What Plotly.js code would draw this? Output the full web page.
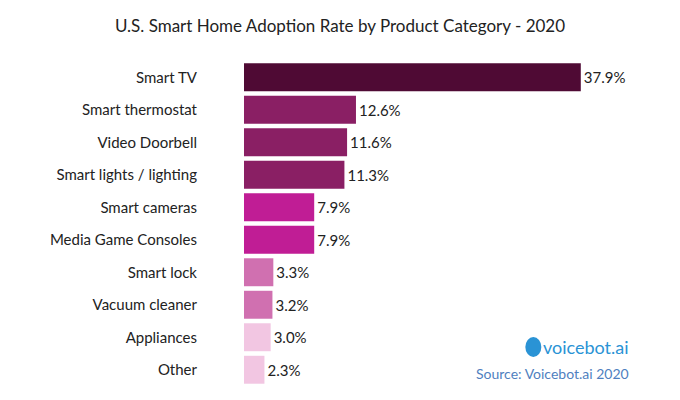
<!DOCTYPE html><html><head><script src="https://cdn.plot.ly/plotly-3.0.1.min.js"></script></head><body style="margin:0">
<div id="c" style="width:680px;height:400px"></div>
<script>
const categories=["Smart TV","Smart thermostat","Video Doorbell","Smart lights / lighting","Smart cameras","Media Game Consoles","Smart lock","Vacuum cleaner","Appliances","Other"];
const values=[37.9,12.6,11.6,11.3,7.9,7.9,3.3,3.2,3.0,2.3];
const colors=["#4f0a34","#8a1f64","#8a1f64","#8a1f64","#c01d95","#c01d95","#d070b0","#d070b0","#f2c6e2","#f2c6e2"];
const labels=values.map(v=>v.toFixed(1)+"%");
Plotly.newPlot("c",[{type:"bar",orientation:"h",y:categories,x:values,marker:{color:colors},text:labels,textposition:"outside",cliponaxis:false,textfont:{family:"Lato, sans-serif",size:15,color:"#222"},hoverinfo:"none"}],{
width:680,height:400,margin:{l:244,r:45,t:61,b:14},paper_bgcolor:"#fff",plot_bgcolor:"#fff",bargap:0.14,showlegend:false,
title:{text:"U.S. Smart Home Adoption Rate by Product Category - 2020",font:{family:"Lato, sans-serif",size:17,color:"#222"},x:0.5,xanchor:"center",y:0.95},
xaxis:{range:[0,44],visible:false},
yaxis:{autorange:"reversed",showline:false,ticks:"",ticklabelstandoff:46,tickfont:{family:"Lato, sans-serif",size:15,color:"#222"}},
annotations:[
{xref:"paper",yref:"paper",x:0.99,y:0.12,xanchor:"right",yanchor:"middle",text:"voicebot.ai",showarrow:false,font:{family:"Lato, sans-serif",size:18,color:"#2a93d5"}},
{xref:"paper",yref:"paper",x:0.99,y:0.037,xanchor:"right",yanchor:"middle",text:"Source: Voicebot.ai 2020",showarrow:false,font:{family:"Lato, sans-serif",size:14,color:"#4f7fc0"}}
],
shapes:[{type:"circle",xref:"paper",yref:"paper",xsizemode:"pixel",ysizemode:"pixel",xanchor:0.74,yanchor:0.12,x0:-8,x1:8,y0:-10,y1:10,fillcolor:"#2a93d5",line:{width:0}}]
},{staticPlot:true});
</script></body></html>
